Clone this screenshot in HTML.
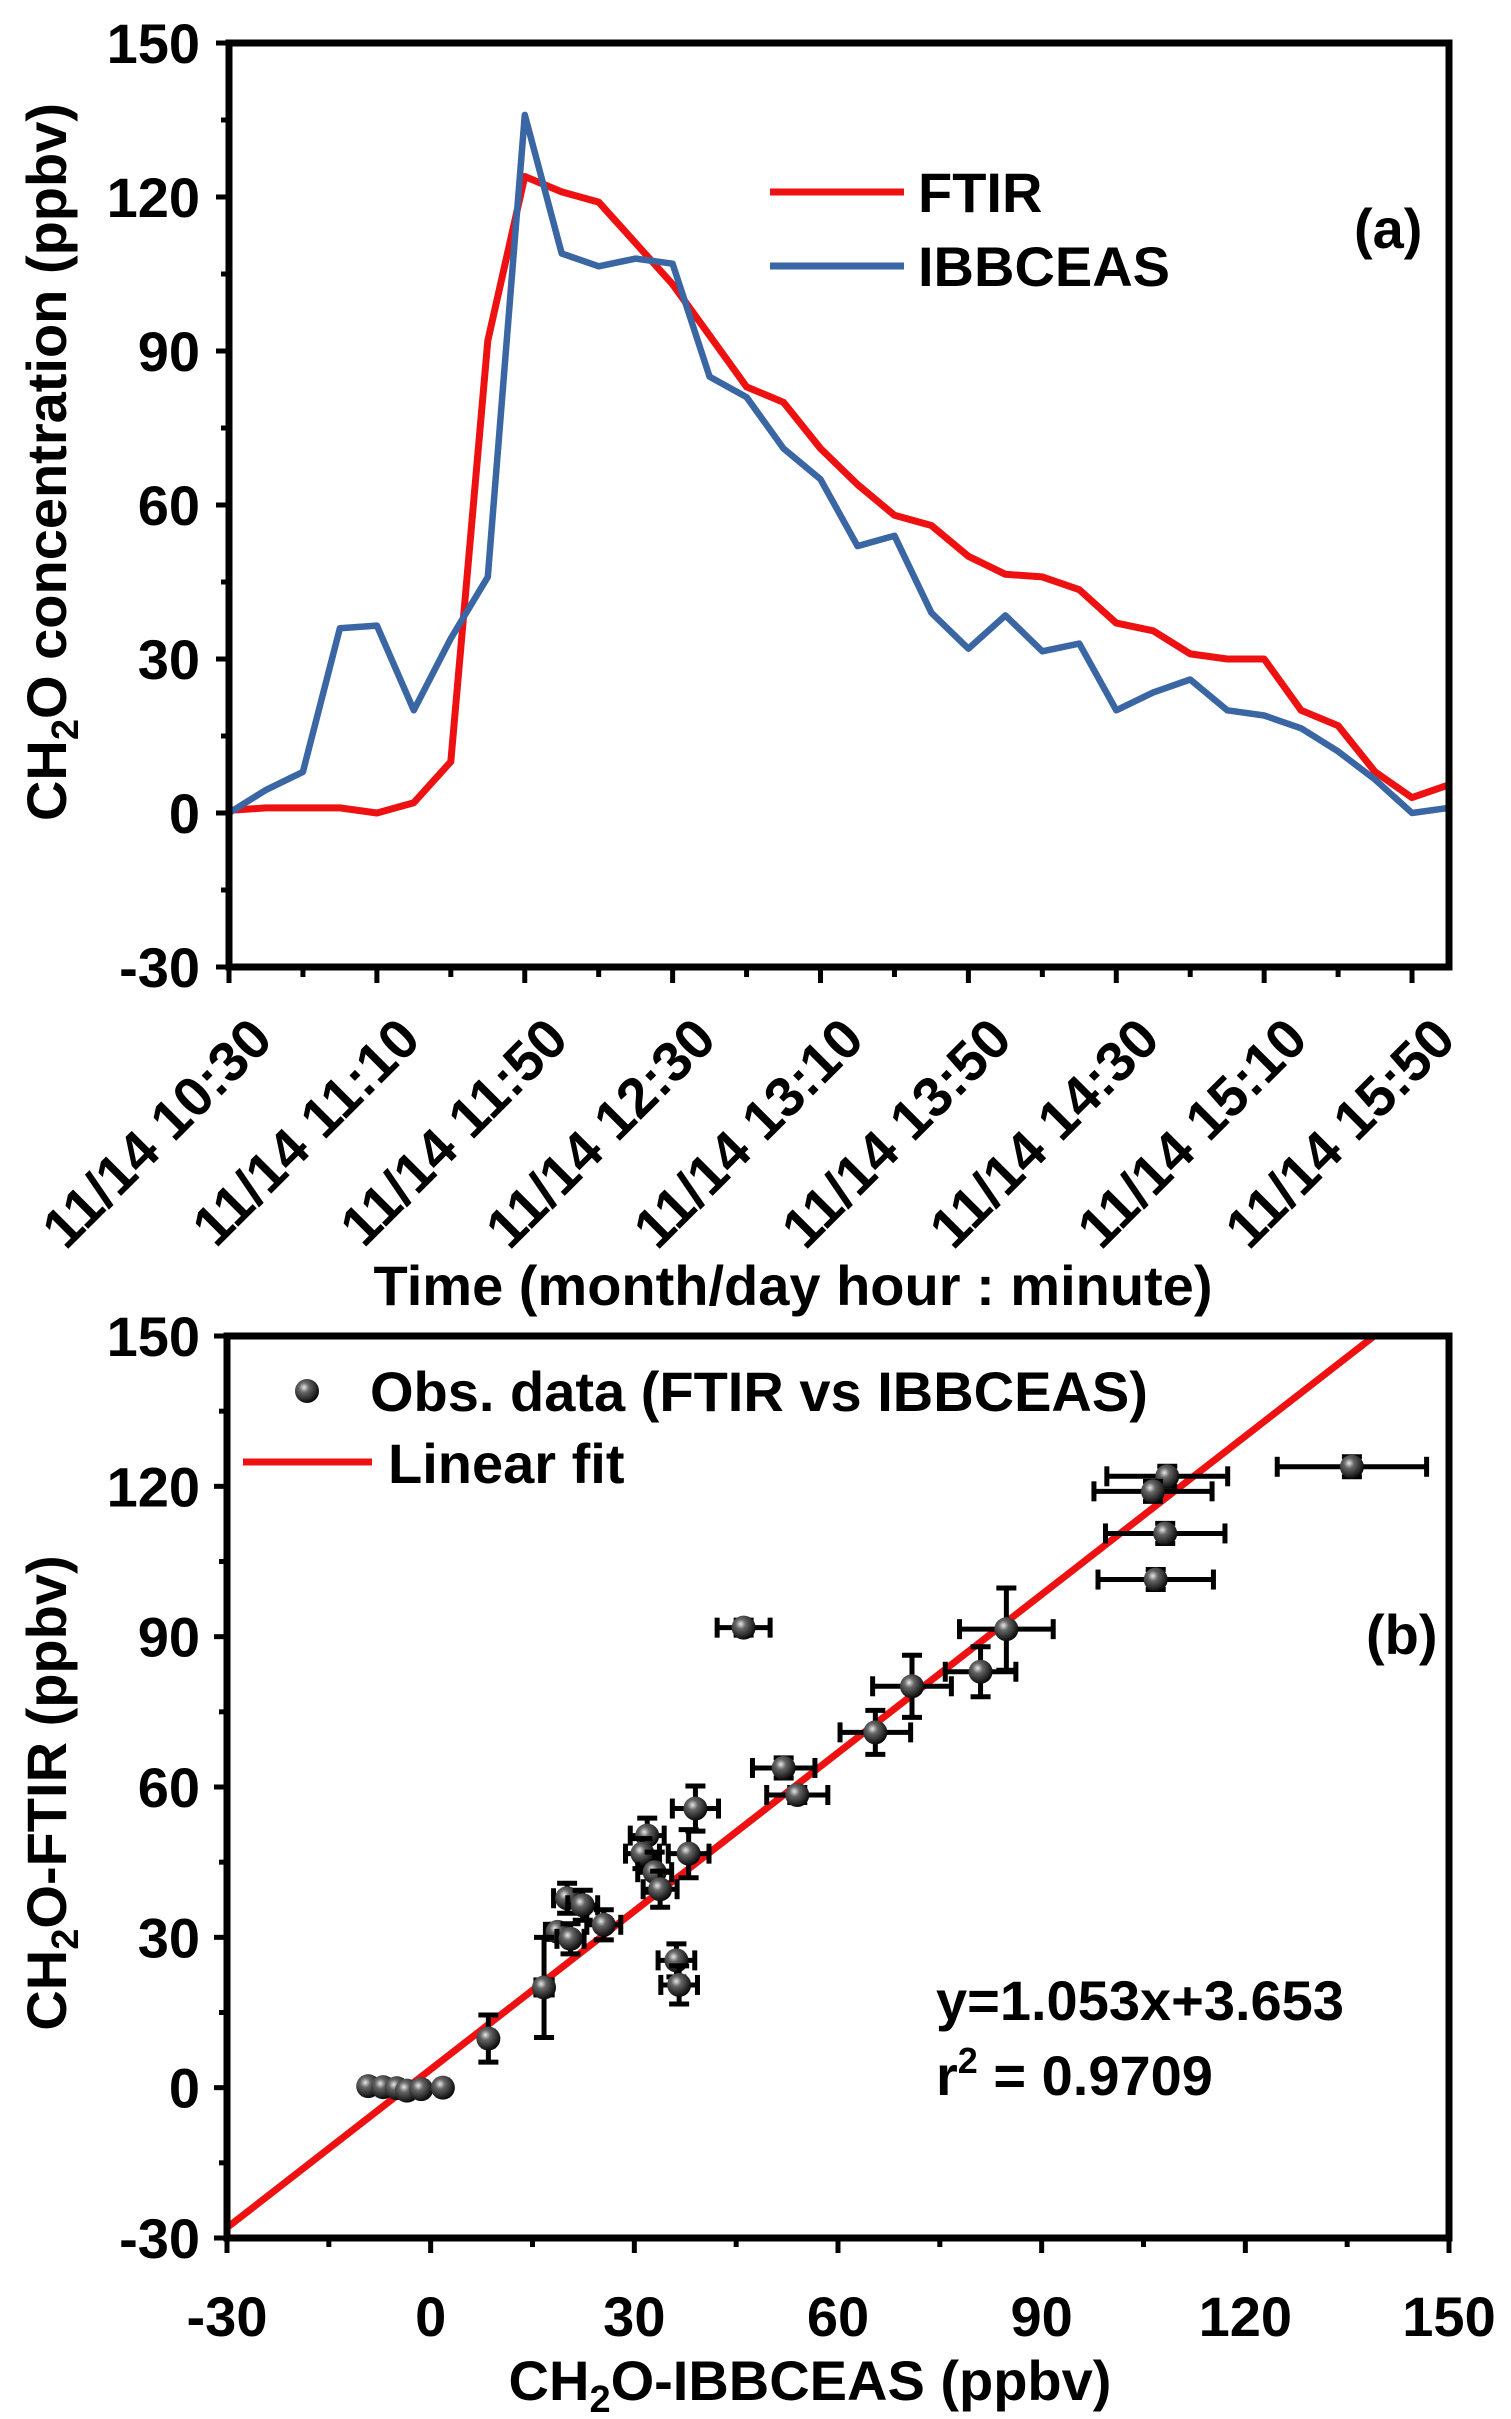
<!DOCTYPE html>
<html><head><meta charset="utf-8"><style>
html,body{margin:0;padding:0;background:#fff}
svg{display:block;font-family:"Liberation Sans",Arial,sans-serif;font-weight:bold}
</style></head><body>
<svg id="chart" width="1511" height="2419" viewBox="0 0 1511 2419" xmlns="http://www.w3.org/2000/svg">
<defs>
<radialGradient id="ball" cx="0.38" cy="0.35" r="0.7">
<stop offset="0" stop-color="#e8e8e8"/><stop offset="0.3" stop-color="#666"/><stop offset="1" stop-color="#000"/>
</radialGradient>
</defs>
<g id="pa"></g>
<g id="pb"></g>
</svg>
<script>
// ---------- Panel (a) data ----------
const timeLabels = ["11/14 10:30","11/14 11:10","11/14 11:50","11/14 12:30","11/14 13:10","11/14 13:50","11/14 14:30","11/14 15:10","11/14 15:50"];
const timeMinutes = [0,10,20,30,40,50,60,70,80,90,100,110,120,130,140,150,160,170,180,190,200,210,220,230,240,250,260,270,280,290,300,310,320,330];
const ftirValues = [0.5,1,1,1,0,2,10,92,124,121,119,111,103,93,83,80,71,64,58,56,50,46.5,46,43.5,37,35.5,31,30,30,20,17,8,3,5.5];
const ibbValues = [0,4.5,8,36,36.5,20,34,46,136,109,106.5,108,107,85,81,71,65,52,54,39,32,38.5,31.5,33,20,23.5,26,20,19,16.5,12,6.5,0,1];
const yTicksA = [-30,0,30,60,90,120,150];

// ---------- Panel (b) data ----------
const obsIBB = [108.5,106.4,108.2,106.8,135.7,46.1,84.8,81,70.9,65.5,52,54,39,38,31.9,31.2,33,33.8,36.2,36.6,20.1,22.4,25.5,18.7,20.6,16.7,8.5,-9.2,-7,-5,-3.5,-1.4,1.8];
const obsFTIR = [122,119,110.6,101.4,123.9,91.8,91.5,83,80.1,70.9,63.8,58.4,55.7,46.7,50.3,46.7,43,39.6,25.4,20.5,37.8,36.4,32.5,31.1,29.7,20,9.8,0.3,0.1,-0.1,-0.6,-0.3,0];
const obsXErr = [8.9,8.7,8.8,8.5,11,3.9,6.9,5.2,5.8,5.2,4.6,4.5,3.4,3,2.5,2.5,2.5,2.5,2.7,2.7,2,2.2,2.5,1.8,2,1.2,0.7,0.7,0.7,0.7,0.7,0.7,0.7];
const obsYErr = [2,2,2,2,2,1.5,8.2,5,6.2,4.4,2,1.5,4.5,4.8,3.5,3,4,3.6,3.3,3.8,3,3,3,1.5,3,10,4.7,0.5,0.5,0.5,0.5,0.5,0.5];
const fitSlope = [1.053];
const fitIntercept = [3.653];
const ticksB = [-30,0,30,60,90,120,150];

const NS="http://www.w3.org/2000/svg";
const FS=56;
function mk(parent,tag,attrs,text){const e=document.createElementNS(NS,tag);for(const k in attrs)e.setAttribute(k,attrs[k]);if(text!==undefined)e.textContent=text;parent.appendChild(e);return e;}

// ===== Panel a =====
(function(){
const g=document.getElementById('pa');
const L=229,R=1449,T=43,B=967;
const xs=m=>L+m*(R-L)/330;
const ys=v=>B-(v+30)*(B-T)/180;
for(let v=-30;v<=150;v+=15){
 const major=(v%30===0);
 const t=mk(g,'line',{x1:L-(major?13:8),x2:L,y1:ys(v),y2:ys(v),stroke:'#000','stroke-width':5});
 
 
}
yTicksA.forEach(v=>{
 const t=mk(g,'text',{x:200,y:ys(v)+20,'text-anchor':'end','font-size':FS},String(v));
 
 
});
for(let m=0;m<=330;m+=20){
 const major=(m%40===0);
 const t=mk(g,'line',{x1:xs(m),x2:xs(m),y1:B,y2:B+(major?16:10),stroke:'#000','stroke-width':5});
 
 
}
timeLabels.forEach((lab,i)=>{
 const x=xs(i*40)+46, y=1042;
 const t=mk(g,'text',{x:x,y:y,'text-anchor':'end','font-size':FS,transform:`rotate(-45 ${x} ${y})`},lab);
 
 
});
const pts=(arr)=>arr.map((v,i)=>xs(timeMinutes[i]).toFixed(1)+','+ys(v).toFixed(1)).join(' ');
const cp=mk(g,'clipPath',{id:'clipA'});mk(cp,'rect',{x:L,y:T,width:R-L,height:B-T});
let s=mk(g,'polyline',{points:pts(ftirValues),fill:'none',stroke:'#ee1111','stroke-width':7,'stroke-linejoin':'round','clip-path':'url(#clipA)'});


s=mk(g,'polyline',{points:pts(ibbValues),fill:'none',stroke:'#3a66a4','stroke-width':6.5,'stroke-linejoin':'round','clip-path':'url(#clipA)'});


const f=mk(g,'rect',{x:L,y:T,width:R-L,height:B-T,fill:'none',stroke:'#000','stroke-width':7});


let e=mk(g,'line',{x1:770,x2:904,y1:192,y2:192,stroke:'#ee1111','stroke-width':7});


e=mk(g,'text',{x:918,y:212,'font-size':FS},'FTIR');


e=mk(g,'line',{x1:770,x2:904,y1:266,y2:266,stroke:'#3a66a4','stroke-width':7});


e=mk(g,'text',{x:918,y:286,'font-size':FS},'IBBCEAS');


e=mk(g,'text',{x:1354,y:248,'font-size':FS},'(a)');


e=mk(g,'text',{x:0,y:0,'text-anchor':'middle','font-size':FS,transform:'translate(66 462) rotate(-90)'});
e.innerHTML='CH<tspan font-size="38" dy="12">2</tspan><tspan dy="-12">O concentration (ppbv)</tspan>';


e=mk(g,'text',{x:793,y:1305,'text-anchor':'middle','font-size':FS},'Time (month/day hour : minute)');


})();

// ===== Panel b =====
(function(){
const g=document.getElementById('pb');
const L=227,R=1449,T=1336,B=2238;
const xs=v=>L+(v+30)*(R-L)/180;
const ys=v=>B-(v+30)*(B-T)/180;
for(let v=-30;v<=150;v+=15){
 const major=(v%30===0);
 let t=mk(g,'line',{x1:L-(major?13:8),x2:L,y1:ys(v),y2:ys(v),stroke:'#000','stroke-width':5});
 
 
 t=mk(g,'line',{x1:xs(v),x2:xs(v),y1:B,y2:B+(major?15:9),stroke:'#000','stroke-width':5});
 
 
}
ticksB.forEach(v=>{
 let t=mk(g,'text',{x:200,y:ys(v)+20,'text-anchor':'end','font-size':FS},String(v));
 
 
 t=mk(g,'text',{x:xs(v),y:2336,'text-anchor':'middle','font-size':FS},String(v));
 
 
});
const cp=mk(g,'clipPath',{id:'clipB'});mk(cp,'rect',{x:L,y:T,width:R-L,height:B-T});
const x0=-30,x1=(150-fitIntercept[0])/fitSlope[0];
let e=mk(g,'line',{x1:xs(x0),y1:ys(fitSlope[0]*x0+fitIntercept[0]),x2:xs(x1),y2:ys(fitSlope[0]*x1+fitIntercept[0]),stroke:'#ee1111','stroke-width':7,'clip-path':'url(#clipB)'});


obsIBB.forEach((xv,i)=>{
 const yv=obsFTIR[i];
 const grp=mk(g,'g',{});
 
 
 const cx=xs(xv),cy=ys(yv);
 const xa=xs(xv-obsXErr[i]),xb=xs(xv+obsXErr[i]);
 const ya=ys(yv-obsYErr[i]),yb=ys(yv+obsYErr[i]);
 const sw=5;
 mk(grp,'line',{x1:xa,x2:xb,y1:cy,y2:cy,stroke:'#000','stroke-width':sw});
 mk(grp,'line',{x1:xa,x2:xa,y1:cy-10,y2:cy+10,stroke:'#000','stroke-width':sw});
 mk(grp,'line',{x1:xb,x2:xb,y1:cy-10,y2:cy+10,stroke:'#000','stroke-width':sw});
 mk(grp,'line',{x1:cx,x2:cx,y1:ya,y2:yb,stroke:'#000','stroke-width':sw});
 mk(grp,'line',{x1:cx-10,x2:cx+10,y1:ya,y2:ya,stroke:'#000','stroke-width':sw});
 mk(grp,'line',{x1:cx-10,x2:cx+10,y1:yb,y2:yb,stroke:'#000','stroke-width':sw});
 mk(grp,'ellipse',{cx:cx,cy:cy,rx:12,ry:12,fill:'url(#ball)'});
});
const f=mk(g,'rect',{x:L,y:T,width:R-L,height:B-T,fill:'none',stroke:'#000','stroke-width':7});


e=mk(g,'ellipse',{cx:307,cy:1391,rx:12,ry:12,fill:'url(#ball)'});


e=mk(g,'text',{x:370,y:1411,'font-size':FS},'Obs. data (FTIR vs IBBCEAS)');


e=mk(g,'line',{x1:243,x2:372,y1:1462,y2:1462,stroke:'#ee1111','stroke-width':7});


e=mk(g,'text',{x:388,y:1483,'font-size':FS},'Linear fit');


e=mk(g,'text',{x:1366,y:1654,'font-size':FS},'(b)');


e=mk(g,'text',{x:936,y:2020,'font-size':FS},'y=1.053x+3.653');


e=mk(g,'text',{x:936,y:2095,'font-size':FS});
e.innerHTML='r<tspan font-size="36" dy="-22">2</tspan><tspan dy="22"> = 0.9709</tspan>';


e=mk(g,'text',{x:0,y:0,'text-anchor':'middle','font-size':FS,transform:'translate(66 1793) rotate(-90)'});
e.innerHTML='CH<tspan font-size="38" dy="12">2</tspan><tspan dy="-12">O-FTIR (ppbv)</tspan>';


e=mk(g,'text',{x:810,y:2400,'text-anchor':'middle','font-size':FS});
e.innerHTML='CH<tspan font-size="38" dy="12">2</tspan><tspan dy="-12">O-IBBCEAS (ppbv)</tspan>';


})();
</script>
</body></html>
